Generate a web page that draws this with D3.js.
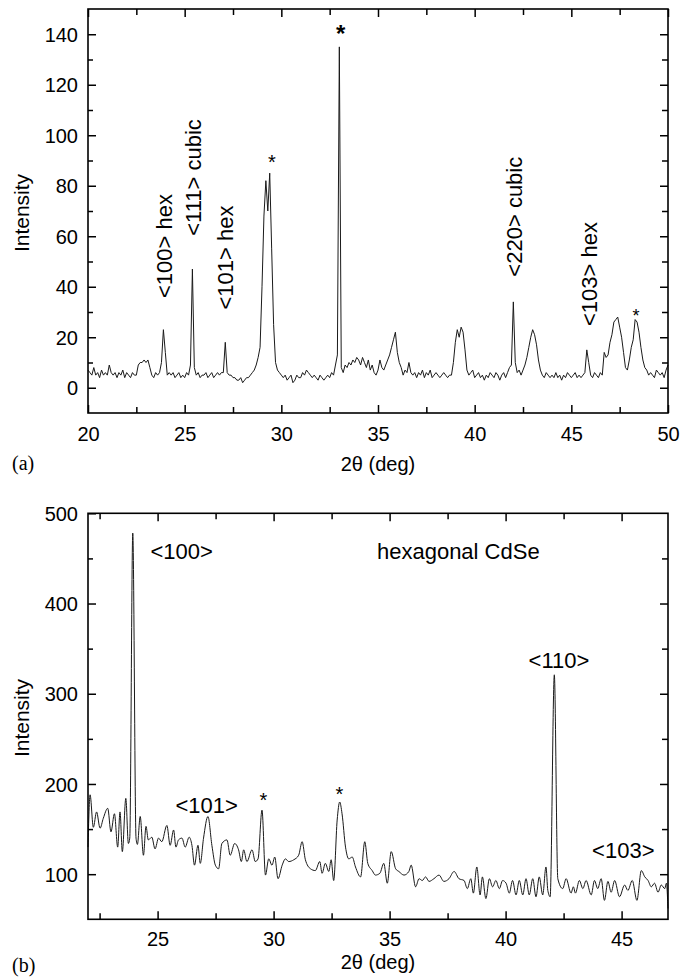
<!DOCTYPE html>
<html>
<head>
<meta charset="utf-8">
<script src="https://cdn.jsdelivr.net/npm/d3@7"></script>
<style>
  html, body { margin: 0; padding: 0; background: #fff; }
  svg { display: block; }
</style>
</head>
<body>
<svg id="chart" width="692" height="979"></svg>
<script>
// ---------- Panel (a) data: 2θ from 20 to 50 in 0.1° steps ----------
const aStart = 20, aStep = 0.1;
const intensityA = [
  7,6,5,8,5,6,4,7,5,6,        // 20
  5,9,6,5,6,4,6,5,7,4,        // 21
  6,5,4,6,5,5,9,10,10,11,     // 22
  10,11,8,5,4,6,5,6,10,23,    // 23
  14,5,6,5,6,4,5,6,4,5,       // 24
  4,6,5,9,47,8,5,6,4,5,       // 25
  5,6,4,5,6,4,5,6,5,6,        // 26
  6,18,6,5,5,4,4,3,3,4,       // 27
  2,3,4,4,5,6,7,9,12,16,      // 28
  40,68,82,70,85,55,25,10,7,6,// 29
  5,4,5,3,4,5,2,3,5,4,        // 30
  4,6,5,7,6,5,4,5,4,3,        // 31
  5,4,3,4,5,4,6,5,9,13,       // 32
  135,8,6,9,8,10,9,11,10,12,  // 33
  11,9,12,10,8,11,7,9,6,5,    // 34
  7,11,8,7,9,11,13,16,19,22,  // 35
  14,10,8,5,7,6,10,6,5,6,     // 36
  4,6,5,7,4,6,5,7,4,5,        // 37
  6,5,4,5,6,5,4,5,5,10,       // 38
  18,23,20,24,22,15,7,5,6,7,  // 39
  4,5,6,4,5,3,5,4,6,5,        // 40
  4,6,5,3,5,6,4,6,8,9,        // 41
  34,10,6,7,5,7,9,12,16,20,   // 42
  23,21,17,11,7,5,4,6,5,4,    // 43
  5,4,6,4,5,3,5,4,6,5,        // 44
  4,5,6,4,5,4,5,6,15,10,      // 45
  5,4,6,5,4,6,5,14,12,13,     // 46
  18,21,26,27,28,24,20,14,8,7,// 47
  11,16,19,27,26,22,16,11,8,7,// 48
  5,6,5,4,7,6,5,6,4,7,        // 49
  9                           // 50
];
const xTicksA = [20, 25, 30, 35, 40, 45, 50];
const xMinorA = [22.5, 27.5, 32.5, 37.5, 42.5, 47.5];
const yTicksA = [0, 20, 40, 60, 80, 100, 120, 140];
const yMinorA = [-10, 10, 30, 50, 70, 90, 110, 130, 150];

// ---------- Panel (b) data ----------
const thetaB = [
  22.00,22.09,22.23,22.37,22.52,22.66,22.85,22.99,23.14,23.28,23.38,23.48,23.63,23.74,23.80,23.93,24.07,24.13,
  24.25,24.39,24.50,24.60,24.75,24.89,25.04,25.18,25.40,25.54,25.69,25.79,25.90,26.05,26.19,26.36,26.48,26.59,
  26.74,26.84,26.98,27.17,27.34,27.49,27.63,27.77,27.99,28.13,28.32,28.49,28.61,28.71,28.85,29.07,29.21,29.33,
  29.50,29.65,29.79,29.93,30.05,30.19,30.37,30.51,30.65,30.87,31.08,31.23,31.37,31.59,31.80,31.99,32.09,32.23,
  32.38,32.48,32.59,32.74,32.85,32.95,33.10,33.24,33.39,33.53,33.75,33.93,34.06,34.25,34.39,34.58,34.75,34.90,
  35.07,35.26,35.40,35.62,35.83,35.93,36.12,36.27,36.41,36.55,36.70,36.91,37.13,37.34,37.56,37.78,37.99,38.21,
  38.35,38.50,38.61,38.76,38.90,39.00,39.15,39.30,39.44,39.58,39.73,39.87,40.02,40.16,40.30,40.45,40.59,40.74,
  40.88,41.02,41.17,41.31,41.45,41.60,41.74,41.82,41.92,42.10,42.25,42.46,42.61,42.82,42.92,43.01,43.18,43.33,
  43.47,43.69,43.83,43.97,44.12,44.26,44.41,44.55,44.70,44.91,45.13,45.27,45.46,45.66,45.85,46.00,46.14,46.28,
  46.42,46.57,46.71,46.86,46.93,47.00
];
const intensityB = [
  130,188,152,169,151,162,173,147,167,130,169,125,184,134,140,478,140,133,
  164,121,153,138,141,128,140,136,154,132,149,130,138,140,130,141,132,110,
  132,112,140,164,132,110,106,134,138,121,134,127,114,127,114,127,114,117,
  171,99,117,110,119,95,110,117,114,116,121,136,116,106,104,114,101,112,
  103,116,93,160,180,167,130,117,119,108,97,136,112,104,99,101,112,90,
  125,106,103,99,103,110,86,95,93,97,92,95,99,92,95,103,95,93,
  84,95,79,108,77,97,73,95,86,93,84,93,90,79,93,77,93,77,
  95,77,95,75,97,77,108,82,75,321,95,84,95,79,86,79,93,84,
  93,77,93,84,95,71,92,80,93,75,88,82,93,71,104,97,93,86,
  90,80,88,84,90,62
];
const xTicksB = [25, 30, 35, 40, 45];
const xMinorB = [22.5, 27.5, 32.5, 37.5, 42.5];
const yTicksB = [100, 200, 300, 400, 500];
const yMinorB = [50, 150, 250, 350, 450];

// ---------- Layout ----------
const svg = d3.select("#chart");
svg.append("rect").attr("width", 692).attr("height", 979).attr("fill", "#fff");

const FONT = "'Liberation Sans', Arial, Helvetica, sans-serif";
const SERIF = "'Liberation Serif', 'Times New Roman', serif";
const left = 88, right = 668;

function panel(cfg) {
  const g = svg.append("g");
  const x = d3.scaleLinear().domain(cfg.xDomain).range([left, right]);
  const y = d3.scaleLinear().domain(cfg.yDomain).range([cfg.bottom, cfg.top]);

  // data line
  const line = d3.line().x(d => x(d[0])).y(d => y(d[1])).curve(cfg.curve);
  g.append("path").datum(cfg.data)
    .attr("d", line).attr("fill", "none")
    .attr("stroke", "#1a1a1a").attr("stroke-width", 1).attr("stroke-linejoin", "round");

  function styleAxis(sel) {
    sel.select(".domain").remove();
    sel.selectAll(".tick line").attr("stroke", "#000").attr("stroke-width", 1.5);
    sel.selectAll("text").attr("font-family", FONT).attr("font-size", 20).attr("fill", "#000");
  }
  // bottom major + labels
  const gb = g.append("g").attr("transform", `translate(0,${cfg.bottom})`)
    .call(d3.axisBottom(x).tickValues(cfg.xTicks).tickSize(-8).tickFormat(d3.format("d")));
  styleAxis(gb);
  gb.selectAll("text").attr("y", cfg.xLabelOffset).attr("dy", 0);
  // bottom minor
  styleAxis(g.append("g").attr("transform", `translate(0,${cfg.bottom})`)
    .call(d3.axisBottom(x).tickValues(cfg.xMinor).tickSize(-6).tickFormat("")));
  // top major/minor
  styleAxis(g.append("g").attr("transform", `translate(0,${cfg.top})`)
    .call(d3.axisTop(x).tickValues(cfg.xTicks).tickSize(-8).tickFormat("")));
  styleAxis(g.append("g").attr("transform", `translate(0,${cfg.top})`)
    .call(d3.axisTop(x).tickValues(cfg.xMinor).tickSize(-6).tickFormat("")));
  // left
  const gl = g.append("g").attr("transform", `translate(${left},0)`)
    .call(d3.axisLeft(y).tickValues(cfg.yTicks).tickSize(-8).tickPadding(10).tickFormat(d3.format("d")));
  styleAxis(gl);
  gl.selectAll("text").attr("x", -10).attr("dy", "0.36em");
  styleAxis(g.append("g").attr("transform", `translate(${left},0)`)
    .call(d3.axisLeft(y).tickValues(cfg.yMinor.filter(v => v > cfg.yDomain[0] && v < cfg.yDomain[1])).tickSize(-5).tickFormat("")));
  // right
  styleAxis(g.append("g").attr("transform", `translate(${right},0)`)
    .call(d3.axisRight(y).tickValues(cfg.yTicks.filter(v => v < cfg.yDomain[1])).tickSize(-8).tickFormat("")));
  styleAxis(g.append("g").attr("transform", `translate(${right},0)`)
    .call(d3.axisRight(y).tickValues(cfg.yMinor.filter(v => v > cfg.yDomain[0] && v < cfg.yDomain[1])).tickSize(-6).tickFormat("")));

  // frame
  g.append("rect").attr("x", left).attr("y", cfg.top)
    .attr("width", right - left).attr("height", cfg.bottom - cfg.top)
    .attr("fill", "none").attr("stroke", "#000").attr("stroke-width", 1.6);

  // axis titles
  g.append("text").attr("x", (left + right) / 2).attr("y", cfg.xTitleY)
    .attr("text-anchor", "middle").attr("font-family", FONT).attr("font-size", 20)
    .text("2θ (deg)");
  g.append("text")
    .attr("transform", `translate(29,${cfg.yTitleY}) rotate(-90)`)
    .attr("text-anchor", "middle").attr("font-family", FONT).attr("font-size", 21)
    .text("Intensity");
  g.append("text").attr("x", 12).attr("y", cfg.tagY)
    .attr("font-family", SERIF).attr("font-size", 20).text(cfg.tag);

  return { g, x, y };
}

// Panel (a)
const dataA = intensityA.map((v, i) => [aStart + i * aStep, v]);
const pa = panel({
  xDomain: [20, 50], yDomain: [-10, 150], top: 9, bottom: 413,
  data: dataA, curve: d3.curveLinear,
  xTicks: xTicksA, xMinor: xMinorA, yTicks: yTicksA, yMinor: yMinorA,
  xLabelOffset: 27.5, xTitleY: 471, yTitleY: 213, tagY: 470, tag: "(a)"
});

// Panel (b)
const dataB = thetaB.map((t, i) => [t, intensityB[i]]);
const pb = panel({
  xDomain: [22, 47], yDomain: [50, 500], top: 513.3, bottom: 919.3,
  data: dataB, curve: d3.curveMonotoneX,
  xTicks: xTicksB, xMinor: xMinorB, yTicks: yTicksB, yMinor: yMinorB,
  xLabelOffset: 26.5, xTitleY: 969, yTitleY: 718, tagY: 972, tag: "(b)"
});

// ---------- Annotations ----------
const annRotA = [
  { text: "<100> hex",   bx: 171.5, cy: 246 },
  { text: "<111> cubic", bx: 201,   cy: 177.5 },
  { text: "<101> hex",   bx: 233,   cy: 257.5 },
  { text: "<220> cubic", bx: 521.5, cy: 216.7 },
  { text: "<103> hex",   bx: 596.5, cy: 274 }
];
annRotA.forEach(a => {
  pa.g.append("text")
    .attr("transform", `translate(${a.bx},${a.cy}) rotate(-90)`)
    .attr("text-anchor", "middle").attr("font-family", FONT).attr("font-size", 22)
    .text(a.text);
});
const starsA = [
  { x: 272, y: 168.5, size: 20, weight: "normal" },
  { x: 340.7, y: 42,  size: 24, weight: "bold" },
  { x: 636, y: 322,   size: 18, weight: "normal" }
];
starsA.forEach(s => {
  pa.g.append("text").attr("x", s.x).attr("y", s.y)
    .attr("text-anchor", "middle").attr("font-family", FONT)
    .attr("font-size", s.size).attr("font-weight", s.weight).text("*");
});

const annB = [
  { text: "<100>", x: 181.7, y: 558.5 },
  { text: "hexagonal CdSe", x: 458.3, y: 559 },
  { text: "<110>", x: 559, y: 667.7 },
  { text: "<101>", x: 206.7, y: 812.7 },
  { text: "<103>", x: 623.3, y: 857.7 }
];
annB.forEach(a => {
  pb.g.append("text").attr("x", a.x).attr("y", a.y)
    .attr("text-anchor", "middle").attr("font-family", FONT).attr("font-size", 22)
    .text(a.text);
});
const starsB = [
  { x: 263.3, y: 806.5 },
  { x: 339.3, y: 800.5 }
];
starsB.forEach(s => {
  pb.g.append("text").attr("x", s.x).attr("y", s.y)
    .attr("text-anchor", "middle").attr("font-family", FONT)
    .attr("font-size", 20).text("*");
});
</script>
</body>
</html>
